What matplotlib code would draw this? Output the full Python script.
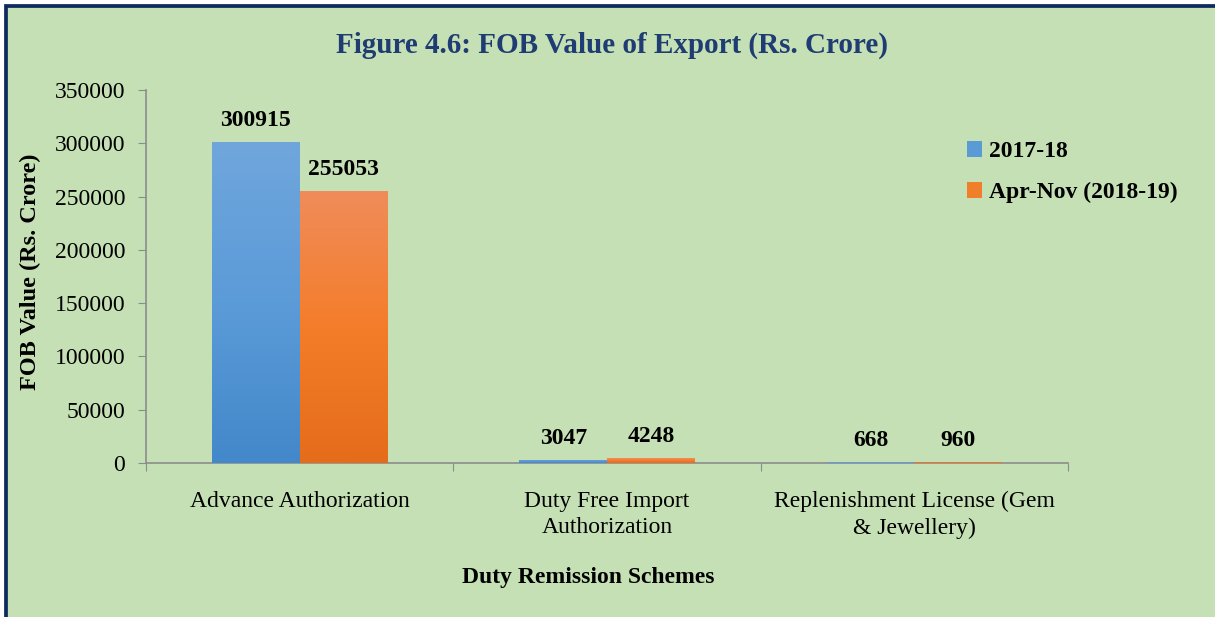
import numpy as np
import matplotlib
matplotlib.use("Agg")
import matplotlib.pyplot as plt
from matplotlib.patches import Rectangle, Patch
from matplotlib.colors import LinearSegmentedColormap

# data
schemes = ["Advance Authorization",
           "Duty Free Import\nAuthorization",
           "Replenishment License (Gem\n& Jewellery)"]
fob_2017_18 = [300915, 3047, 668]
fob_2018_19 = [255053, 4248, 960]
series_names = ["2017-18", "Apr-Nov (2018-19)"]
y_ticks = [0, 50000, 100000, 150000, 200000, 250000, 300000, 350000]

bg = "#C5E0B4"
navy = "#0F2A5F"
grey = "#8C8C8C"
serif = ["Liberation Serif", "DejaVu Serif"]
plt.rcParams["font.family"] = serif

fig = plt.figure(figsize=(12.15, 6.17), dpi=100, facecolor="white")
W, H = 1215, 617

# green panel with the dark blue frame on top / left
fig.patches.append(Rectangle((6.3 / W, -0.05), 1.1, 1 - 6.3 / H + 0.05,
                             transform=fig.transFigure, facecolor=bg,
                             edgecolor=navy, linewidth=2.7, zorder=-5))

ax = fig.add_axes([146 / W, 1 - 463 / H, (1068 - 146) / W, (463 - 90) / H])
ax.set_facecolor("none")
ax.set_zorder(2)

x = np.arange(len(schemes))
w = 0.285
b1 = ax.bar(x - w / 2, fob_2017_18, w, color="#5B9BD5", zorder=2)
b2 = ax.bar(x + w / 2, fob_2018_19, w, color="#F07F2C", zorder=2)

# Excel-like vertical gradient fill
blue_cm = LinearSegmentedColormap.from_list("b", ["#4388CA", "#5B9BD8", "#70A6DC"])
orange_cm = LinearSegmentedColormap.from_list("o", ["#E46C1A", "#F47D2A", "#F08C5A"])
grad = np.linspace(0, 1, 256).reshape(-1, 1)
for bars, cm in ((b1, blue_cm), (b2, orange_cm)):
    for p in bars:
        x0, y0 = p.get_x(), p.get_y()
        im = ax.imshow(grad, extent=[x0, x0 + p.get_width(), y0, y0 + p.get_height()],
                       origin="lower", aspect="auto", cmap=cm, zorder=3)
        im.set_clip_path(p)

for bars, vals in ((b1, fob_2017_18), (b2, fob_2018_19)):
    for p, v in zip(bars, vals):
        ax.annotate(str(v), (p.get_x() + p.get_width() / 2, v), xytext=(0, 8),
                    textcoords="offset points", ha="center", va="bottom",
                    fontsize=17, fontweight="bold", color="black")

ax.set_xlim(-0.5, 2.5)
ax.set_ylim(0, 350000)
ax.set_yticks(y_ticks)
ax.set_yticklabels([str(t) for t in y_ticks], fontfamily=serif)
ax.set_xticks([-0.5, 0.5, 1.5, 2.5])
ax.set_xticklabels([])
ax.set_xticks(x, minor=True)
ax.set_xticklabels(schemes, minor=True, fontfamily=serif, linespacing=1.35)

for s in ("top", "right"):
    ax.spines[s].set_visible(False)
for s in ("left", "bottom"):
    ax.spines[s].set_color(grey)
    ax.spines[s].set_linewidth(1.2)
ax.tick_params(axis="y", direction="out", length=6, color=grey, pad=9, labelsize=17)
ax.tick_params(axis="x", which="major", direction="out", length=6, color=grey)
ax.tick_params(axis="x", which="minor", length=0, pad=20, labelsize=17)

fig.text(612 / W, 1 - 45 / H, "Figure 4.6: FOB Value of Export (Rs. Crore)",
         ha="center", va="center", fontsize=21, fontweight="bold", color="#1F3C73")
fig.text(30 / W, 1 - 272 / H, "FOB Value (Rs. Crore)", rotation=90,
         ha="center", va="center", fontsize=17.5, fontweight="bold")
fig.text(588 / W, 1 - 578 / H, "Duty Remission Schemes",
         ha="center", va="center", fontsize=17, fontweight="bold")

handles = [Patch(facecolor="#5B9BD5"), Patch(facecolor="#F07F2C")]
fig.legend(handles, series_names, loc="upper left",
           bbox_to_anchor=(967 / W, 1 - 141 / H), frameon=False,
           prop={"weight": "bold", "size": 17}, handlelength=0.65,
           handleheight=0.65, handletextpad=0.3, labelspacing=0.85,
           borderaxespad=0, borderpad=0)

fig.savefig("out.png", dpi=100, facecolor="white")
